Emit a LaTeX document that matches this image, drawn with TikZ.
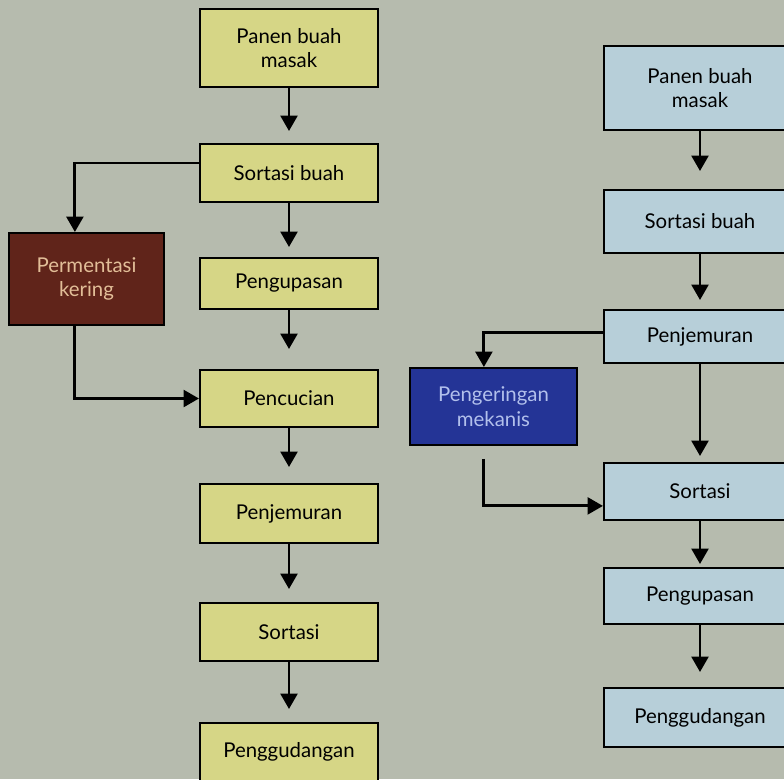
\documentclass[tikz,border=0pt]{standalone}
\usepackage{fontspec}
\setmainfont{Lato}
\usetikzlibrary{arrows.meta}
\definecolor{bgcol}{RGB}{182,187,174}
\definecolor{kuning}{RGB}{214,214,134}
\definecolor{biru}{RGB}{183,207,217}
\definecolor{coklat}{RGB}{96,36,26}
\definecolor{coklattext}{RGB}{226,190,152}
\definecolor{birutua}{RGB}{36,52,150}
\definecolor{birutext}{RGB}{178,192,236}

\begin{document}
\begin{tikzpicture}[x=0.025cm,y=-0.025cm,
    box/.style={draw=black,line width=1.4pt,inner sep=0pt,align=center,
      font=\fontsize{14.5}{17.5}\selectfont},
    kotak/.style={box,fill=kuning,minimum width=4.45cm},
    kotakb/.style={box,fill=biru,minimum width=4.8cm},
    arr/.style={line width=2.1pt,-{Triangle[length=11pt,width=12pt]}}]
  \useasboundingbox (0,0) rectangle (784,779);
  \clip (0,0) rectangle (784,779);
  \fill[bgcol] (0,0) rectangle (784,779);

  % jalur kiri
  \node[kotak,minimum height=1.95cm]  (L1) at (289,48)  {Panen buah\\masak};
  \node[kotak,minimum height=1.45cm]  (L2) at (289,173) {Sortasi buah};
  \node[kotak,minimum height=1.275cm] (L3) at (289,283.5) {Pengupasan};
  \node[kotak,minimum height=1.425cm] (L4) at (289,398.5) {Pencucian};
  \node[kotak,minimum height=1.475cm] (L5) at (289,513.5) {Penjemuran};
  \node[kotak,minimum height=1.45cm]  (L6) at (289,632) {Sortasi};
  \node[kotak,minimum height=1.45cm]  (L7) at (289,752) {Penggudangan};
  \node[box,fill=coklat,text=coklattext,minimum width=3.875cm,minimum height=2.3cm]
    (fermen) at (86.5,279) {Permentasi\\kering};

  % jalur kanan
  \node[kotakb,minimum height=2.1cm]   (R1) at (700,88)  {Panen buah\\masak};
  \node[kotakb,minimum height=1.575cm] (R2) at (700,221.5) {Sortasi buah};
  \node[kotakb,minimum height=1.325cm] (R3) at (700,336.5) {Penjemuran};
  \node[kotakb,minimum height=1.425cm] (R4) at (700,491.5) {Sortasi};
  \node[kotakb,minimum height=1.4cm]   (R5) at (700,596) {Pengupasan};
  \node[kotakb,minimum height=1.475cm] (R6) at (700,717.5) {Penggudangan};
  \node[box,fill=birutua,text=birutext,minimum width=4.175cm,minimum height=1.925cm]
    (mekanis) at (493.5,406.5) {Pengeringan\\mekanis};

  \foreach \a/\b/\g in {L1/L2/12,L2/L3/10,L3/L4/20,L4/L5/16,L5/L6/13,L6/L7/13,
      R1/R2/18,R2/R3/9,R3/R4/6,R4/R5/3,R5/R6/15}
    \draw[arr,shorten >=\g*0.025cm] (\a.south) -- (\b.north);

  % cabang
  \draw[arr] ([yshift=0.25cm]L2.west) -| ([xshift=-0.29cm]fermen.north);
  \draw[arr] ([xshift=-0.29cm]fermen.south) |- (L4.west);
  \draw[arr] ([yshift=0.11cm]R3.west) -| ([xshift=-0.24cm]mekanis.north);
  \coordinate (m0) at ([xshift=-0.24cm,yshift=-0.32cm]mekanis.south);
  \draw[arr] (m0) |- ([yshift=-0.36cm]R4.west);
\end{tikzpicture}
\end{document}
